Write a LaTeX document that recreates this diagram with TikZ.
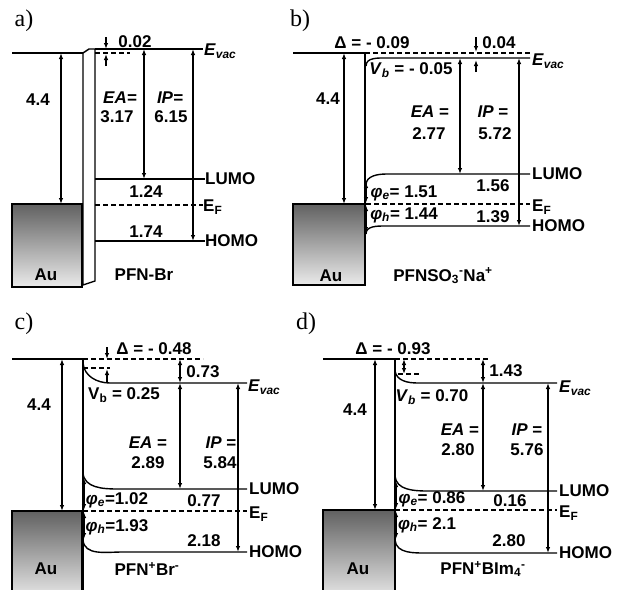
\documentclass[tikz,border=0pt]{standalone}
\usepackage{fontspec}
\setmainfont{Liberation Sans}
\newfontfamily\panelfont{Liberation Serif}
\usetikzlibrary{arrows.meta}
\newcommand{\Evac}{\textit{E}\textsubscript{\textit{vac}}}
\newcommand{\EF}{E\textsubscript{F}}
\tikzset{
  lvl/.style={line width=1.4pt},
  fermi/.style={line width=1.4pt, dash pattern=on 5pt off 3pt},
  dim/.style={line width=1.3pt, {Latex[length=6pt,width=4.5pt]}-{Latex[length=6pt,width=4.5pt]}},
  tip/.style={line width=1.3pt, -{Latex[length=6pt,width=4.5pt]}},
  val/.style={font=\fontsize{17}{19}\selectfont\bfseries, inner sep=0pt},
  tag/.style={val, anchor=west},
  panel/.style={font=\panelfont\fontsize{24}{26}\selectfont, inner sep=0pt},
  metal/.style={draw, line width=1.4pt, top color=black!62, bottom color=black!8},
}
\begin{document}
\begin{tikzpicture}[x=1pt,y=-1pt]
  \clip (0,0) rectangle (617,589);

  % a) PFN-Br
  \node[panel] (pa) at (24,21) {a)};
  \draw[metal] (12,204) rectangle (82,287);
  \draw[lvl] (12,53) -- (83,53);
  \draw[lvl, fill=white] (83,285) -- (83,53) -- (89,49) -- (95,49) -- (95,281) -- cycle;
  \draw[lvl] (95,49) -- (203,49);
  \draw[fermi] (95,53) -- (130,53);
  \draw[lvl] (95,179) -- (205,179);
  \draw[fermi] (95,205) -- (203,205);
  \draw[lvl] (95,241) -- (205,241);
  \coordinate (aDn1) at (106,37);  \coordinate (aDn2) at (106,49);
  \coordinate (aUp1) at (106,66);  \coordinate (aUp2) at (106,54);
  \coordinate (aWf1) at (61,53);   \coordinate (aWf2) at (61,204);
  \coordinate (aEA1) at (144,49);  \coordinate (aEA2) at (144,179);
  \coordinate (aIP1) at (193,49);  \coordinate (aIP2) at (193,241);
  \draw[tip] (aDn1) -- (aDn2);
  \draw[tip] (aUp1) -- (aUp2);
  \draw[dim] (aWf1) -- (aWf2);
  \draw[dim] (aEA1) -- (aEA2);
  \draw[dim] (aIP1) -- (aIP2);
  \node[val] (aDelta) at (135,42) {0.02};
  \node[tag] (aEvac) at (204,51) {\Evac};
  \node[val] (aWf) at (38,100) {4.4};
  \node[val] (aEA) at (120,98) {\textit{EA=}};
  \node[val] (aEAv) at (117,117) {3.17};
  \node[val] (aIP) at (170,98) {\textit{IP=}};
  \node[val] (aIPv) at (171,117) {6.15};
  \node[tag] (aLumo) at (205,179) {LUMO};
  \node[val] (aGe) at (146,192) {1.24};
  \node[tag] (aEF) at (203,207) {\EF};
  \node[val] (aGh) at (146,232) {1.74};
  \node[tag] (aHomo) at (205,241) {HOMO};
  \node[val] (aAu) at (46,275) {Au};
  \node[val] (aName) at (144,275) {PFN-Br};

  % b) PFNSO3-Na+
  \node[panel] (pb) at (300,21) {b)};
  \draw[metal] (293,204) rectangle (365,285);
  \draw[lvl] (293,53) -- (365,53) -- (365,285);
  \draw[fermi] (365,53) -- (530,53);
  \draw[lvl] (366,66) to[out=90,in=180] (387,58) -- (530,58);
  \draw[lvl] (366,185) to[out=90,in=180] (387,174) -- (530,174);
  \draw[fermi] (366,204) -- (530,204);
  \draw[lvl] (366,234) to[out=90,in=180] (385,226) -- (530,226);
  \coordinate (bDn1) at (476,37);  \coordinate (bDn2) at (476,52);
  \coordinate (bUp1) at (476,72);  \coordinate (bUp2) at (476,60);
  \coordinate (bWf1) at (344,53);  \coordinate (bWf2) at (344,204);
  \coordinate (bEA1) at (460,58);  \coordinate (bEA2) at (460,174);
  \coordinate (bIP1) at (519,58);  \coordinate (bIP2) at (519,226);
  \coordinate (bPe1) at (366,182); \coordinate (bPe2) at (366,203);
  \coordinate (bPh1) at (366,205); \coordinate (bPh2) at (366,233);
  \draw[tip] (bDn1) -- (bDn2);
  \draw[tip] (bUp1) -- (bUp2);
  \draw[dim] (bWf1) -- (bWf2);
  \draw[dim] (bEA1) -- (bEA2);
  \draw[dim] (bIP1) -- (bIP2);
  \draw[dim] (bPe1) -- (bPe2);
  \draw[dim] (bPh1) -- (bPh2);
  \node[val] (bDelta) at (372,43) {Δ = - 0.09};
  \node[val] (bShift) at (499,43) {0.04};
  \node[tag] (bEvac) at (532,61) {\Evac};
  \node[val] (bVb) at (411,70) {\textit{V}\textsubscript{\textit{b}} = - 0.05};
  \node[val] (bWf) at (328,99) {4.4};
  \node[val] (bEA) at (430,112) {\textit{EA} =};
  \node[val] (bEAv) at (429,134) {2.77};
  \node[val] (bIP) at (493,112) {\textit{IP} =};
  \node[val] (bIPv) at (495,134) {5.72};
  \node[tag] (bLumo) at (532,174) {LUMO};
  \node[val] (bPe) at (404,193) {\textit{φ}\textsubscript{\textit{e}}= 1.51};
  \node[val] (bGe) at (493,186) {1.56};
  \node[tag] (bEF) at (532,207) {\EF};
  \node[val] (bPh) at (404,215) {\textit{φ}\textsubscript{\textit{h}}= 1.44};
  \node[val] (bGh) at (493,217) {1.39};
  \node[tag] (bHomo) at (532,226) {HOMO};
  \node[val] (bAu) at (331,276) {Au};
  \node[val] (bName) at (443,276) {PFNSO\textsubscript{3}\textsuperscript{-}Na\textsuperscript{+}};

  % c) PFN+Br-
  \node[panel] (pc) at (24,324) {c)};
  \draw[metal] (12,511) rectangle (82,600);
  \draw[lvl] (12,359) -- (83,359) -- (83,600);
  \draw[fermi] (83,359) -- (203,359);
  \draw[fermi] (83,368) -- (110,368);
  \draw[lvl] (83,363) to[out=-85,in=180] (110,383) -- (247,383);
  \draw[lvl] (83,473) to[out=-85,in=180] (118,489) -- (247,489);
  \draw[fermi] (83,511) -- (247,511);
  \draw[lvl] (83,540) to[out=-85,in=180] (122,552) -- (247,552);
  \coordinate (cDn1) at (107,347); \coordinate (cDn2) at (107,359);
  \coordinate (cUp1) at (107,382); \coordinate (cUp2) at (107,369);
  \coordinate (cWf1) at (62,359);  \coordinate (cWf2) at (62,511);
  \coordinate (cSh1) at (180,359); \coordinate (cSh2) at (180,383);
  \coordinate (cEA2) at (180,489);
  \coordinate (cIP1) at (238,383); \coordinate (cIP2) at (238,552);
  \coordinate (cPe1) at (84,478);  \coordinate (cPe2) at (84,510);
  \coordinate (cPh1) at (84,512);  \coordinate (cPh2) at (84,539);
  \draw[tip] (cDn1) -- (cDn2);
  \draw[tip] (cUp1) -- (cUp2);
  \draw[dim] (cWf1) -- (cWf2);
  \draw[dim] (cSh1) -- (cSh2);
  \draw[dim] (cSh2) -- (cEA2);
  \draw[dim] (cIP1) -- (cIP2);
  \draw[dim] (cPe1) -- (cPe2);
  \draw[dim] (cPh1) -- (cPh2);
  \node[val] (cDelta) at (154,349) {Δ = - 0.48};
  \node[val] (cShift) at (203,372) {0.73};
  \node[tag] (cEvac) at (248,387) {\Evac};
  \node[val] (cVb) at (124,395) {V\textsubscript{b} = 0.25};
  \node[val] (cWf) at (39,405) {4.4};
  \node[val] (cEA) at (148,443) {\textit{EA} =};
  \node[val] (cEAv) at (148,463) {2.89};
  \node[val] (cIP) at (221,443) {\textit{IP} =};
  \node[val] (cIPv) at (220,463) {5.84};
  \node[tag] (cLumo) at (249,489) {LUMO};
  \node[val] (cPe) at (117,500) {\textit{φ}\textsubscript{\textit{e}}=1.02};
  \node[val] (cGe) at (204,501) {0.77};
  \node[tag] (cEF) at (249,514) {\EF};
  \node[val] (cPh) at (117,527) {\textit{φ}\textsubscript{\textit{h}}=1.93};
  \node[val] (cGh) at (204,541) {2.18};
  \node[tag] (cHomo) at (249,552) {HOMO};
  \node[val] (cAu) at (46,569) {Au};
  \node[val] (cName) at (147,569) {PFN\textsuperscript{+}Br\textsuperscript{-}};

  % d) PFN+BIm4-
  \node[panel] (pd) at (306,324) {d)};
  \draw[metal] (323,510) rectangle (395,600);
  \draw[lvl] (323,359) -- (395,359) -- (395,600);
  \draw[fermi] (395,359) -- (488,359);
  \draw[fermi] (398,374) -- (420,374);
  \draw[lvl] (395,371) to[out=-80,in=180] (418,383) -- (557,383);
  \draw[lvl] (395,476) to[out=-85,in=180] (428,491) -- (557,491);
  \draw[fermi] (395,510) -- (557,510);
  \draw[lvl] (395,540) to[out=-85,in=180] (428,553) -- (557,553);
  \coordinate (dSm1) at (404,359); \coordinate (dSm2) at (404,374);
  \coordinate (dWf1) at (375,359); \coordinate (dWf2) at (375,510);
  \coordinate (dSh1) at (483,359); \coordinate (dSh2) at (483,383);
  \coordinate (dEA2) at (483,491);
  \coordinate (dIP1) at (548,383); \coordinate (dIP2) at (548,553);
  \coordinate (dPe1) at (396,481); \coordinate (dPe2) at (396,509);
  \coordinate (dPh1) at (396,511); \coordinate (dPh2) at (396,539);
  \draw[dim] (dSm1) -- (dSm2);
  \draw[dim] (dWf1) -- (dWf2);
  \draw[dim] (dSh1) -- (dSh2);
  \draw[dim] (dSh2) -- (dEA2);
  \draw[dim] (dIP1) -- (dIP2);
  \draw[dim] (dPe1) -- (dPe2);
  \draw[dim] (dPh1) -- (dPh2);
  \node[val] (dDelta) at (393,349) {Δ = - 0.93};
  \node[val] (dShift) at (506,371) {1.43};
  \node[tag] (dEvac) at (559,388) {\Evac};
  \node[val] (dVb) at (432,397) {\textit{V}\textsubscript{\textit{b}} = 0.70};
  \node[val] (dWf) at (355,410) {4.4};
  \node[val] (dEA) at (460,430) {\textit{EA} =};
  \node[val] (dEAv) at (458,450) {2.80};
  \node[val] (dIP) at (527,430) {\textit{IP} =};
  \node[val] (dIPv) at (527,450) {5.76};
  \node[tag] (dLumo) at (559,491) {LUMO};
  \node[val] (dPe) at (432,499) {\textit{φ}\textsubscript{\textit{e}}= 0.86};
  \node[val] (dGe) at (510,501) {0.16};
  \node[tag] (dEF) at (559,513) {\EF};
  \node[val] (dPh) at (427,525) {\textit{φ}\textsubscript{\textit{h}}= 2.1};
  \node[val] (dGh) at (509,541) {2.80};
  \node[tag] (dHomo) at (559,553) {HOMO};
  \node[val] (dAu) at (358,569) {Au};
  \node[val] (dName) at (483,569) {PFN\textsuperscript{+}BIm\textsubscript{4}\textsuperscript{-}};
\end{tikzpicture}
\end{document}
